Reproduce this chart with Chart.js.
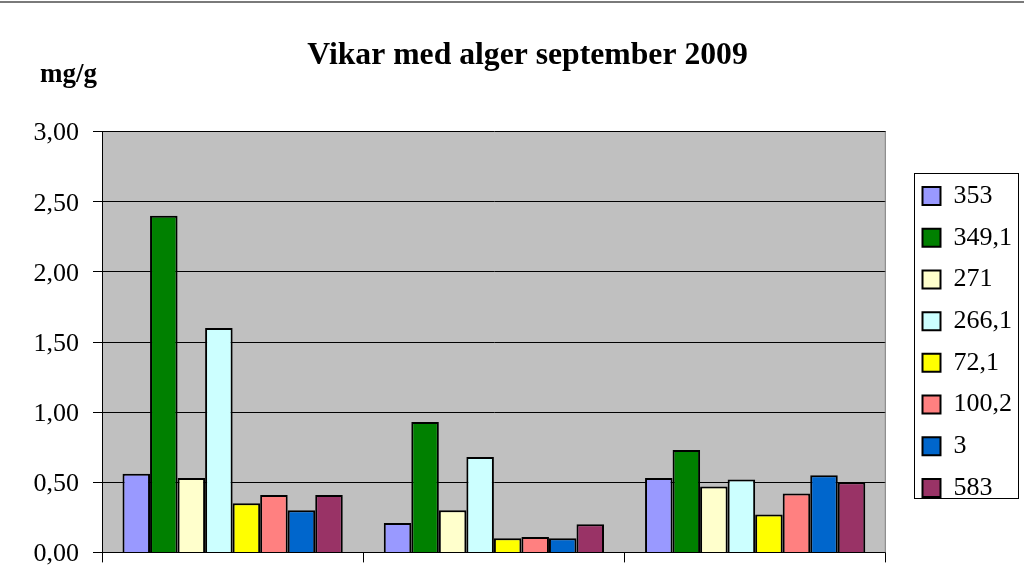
<!DOCTYPE html>
<html>
<head>
<meta charset="utf-8">
<script src="https://cdn.jsdelivr.net/npm/chart.js@4/dist/chart.umd.min.js"></script>
<style>
  html, body { margin: 0; padding: 0; background: #ffffff; }
  #wrap { width: 1024px; height: 582px; position: relative; }
</style>
</head>
<body>
<div id="wrap"><canvas id="c"></canvas></div>
<script>
const chartTitle = 'Vikar med alger september 2009';
const yAxisTitle = 'mg/g';
const categories = ['', '', ''];
const seriesNames = ['353', '349,1', '271', '266,1', '72,1', '100,2', '3', '583'];
const seriesColors = ['#9999FF', '#008000', '#FFFFCC', '#CCFFFF', '#FFFF00', '#FF8080', '#0066CC', '#993366'];
const s353  = [0.56, 0.21, 0.53];
const s3491 = [2.40, 0.93, 0.73];
const s271  = [0.53, 0.30, 0.47];
const s2661 = [1.60, 0.68, 0.52];
const s721  = [0.35, 0.10, 0.27];
const s1002 = [0.41, 0.11, 0.42];
const s3    = [0.30, 0.10, 0.55];
const s583  = [0.41, 0.20, 0.50];
const seriesValues = [s353, s3491, s271, s2661, s721, s1002, s3, s583];
const yMin = 0, yMax = 3, yStep = 0.5;

const FONT = '"Liberation Serif", "Times New Roman", serif';

const bgPlugin = {
  id: 'bgPlugin',
  beforeDraw(chart) {
    const ctx = chart.ctx;
    const a = chart.chartArea;
    ctx.save();
    ctx.fillStyle = '#ffffff';
    ctx.fillRect(0, 0, chart.width, chart.height);
    ctx.fillStyle = '#7a7a7a';
    ctx.fillRect(0, 1, chart.width, 2);
    ctx.fillStyle = '#C0C0C0';
    ctx.fillRect(a.left, a.top, a.right - a.left, a.bottom - a.top);
    ctx.restore();
  },
  afterDraw(chart) {
    const ctx = chart.ctx;
    const a = chart.chartArea;
    ctx.save();
    ctx.strokeStyle = '#808080';
    ctx.lineWidth = 1;
    ctx.beginPath();
    ctx.moveTo(a.right - 0.5, a.top);
    ctx.lineTo(a.right - 0.5, a.bottom);
    ctx.stroke();
    // y axis line extends slightly below zero, as in the original
    ctx.strokeStyle = '#000';
    ctx.beginPath();
    ctx.moveTo(a.left + 0.5, a.bottom);
    ctx.lineTo(a.left + 0.5, a.bottom + 8);
    ctx.stroke();
    // axis title
    ctx.fillStyle = '#000';
    ctx.font = 'bold 27px ' + FONT;
    ctx.textBaseline = 'alphabetic';
    ctx.textAlign = 'left';
    ctx.fillText(yAxisTitle, 40, 82);
    // legend frame
    const hb = chart.legend.legendHitBoxes;
    if (hb && hb.length) {
      const first = hb[0], last = hb[hb.length - 1];
      const top = first.top + first.height / 2 - 23;
      const bottom = last.top + last.height / 2 + 10;
      ctx.strokeStyle = '#000';
      ctx.lineWidth = 1;
      ctx.strokeRect(Math.round(first.left - 9) + 0.5, Math.round(top) + 0.5, 104, Math.round(bottom - top));
    }
    ctx.restore();
  }
};

const datasets = seriesNames.map((name, i) => ({
  label: name,
  data: seriesValues[i],
  backgroundColor: seriesColors[i],
  borderColor: '#000000',
  borderWidth: 2,
  categoryPercentage: 0.843,
  barPercentage: 1.0
}));

new Chart(document.getElementById('c'), {
  type: 'bar',
  data: { labels: categories, datasets },
  plugins: [bgPlugin],
  options: {
    responsive: true,
    maintainAspectRatio: false,
    animation: false,
    layout: { padding: { left: 33, right: 2, top: 0, bottom: 0 } },
    plugins: {
      title: {
        display: true,
        text: chartTitle,
        color: '#000',
        font: { family: FONT, size: 31.7, weight: 'bold', lineHeight: 1.2 },
        padding: { top: 37, bottom: 56.6 }
      },
      legend: {
        display: true,
        position: 'right',
        fullSize: false,
        labels: {
          color: '#000',
          font: { family: FONT, size: 26 },
          boxWidth: 18,
          boxHeight: 18,
          padding: 15.7
        }
      },
      tooltip: { enabled: false }
    },
    scales: {
      x: {
        type: 'category',
        grid: { display: true, drawOnChartArea: false, drawTicks: true, tickLength: 10, color: '#000', offset: true },
        border: { display: true, color: '#000', width: 1 },
        ticks: { display: false },
        afterFit(s) { s.height = 27; }
      },
      y: {
        type: 'linear',
        position: 'left',
        min: yMin,
        max: yMax,
        grid: { color: '#000', lineWidth: 1, tickLength: 9 },
        border: { display: true, color: '#000', width: 1 },
        ticks: {
          stepSize: yStep,
          color: '#000',
          padding: 14,
          labelOffset: 2,
          font: { family: FONT, size: 26 },
          callback: v => Number(v).toFixed(2).replace('.', ',')
        },
        afterFit(s) { s.width = 69; }
      },
      yPad: {
        type: 'linear',
        position: 'right',
        display: true,
        grid: { display: false },
        border: { display: false },
        ticks: { display: false },
        afterFit(s) { s.width = 21; }
      }
    }
  }
});
</script>
</body>
</html>
